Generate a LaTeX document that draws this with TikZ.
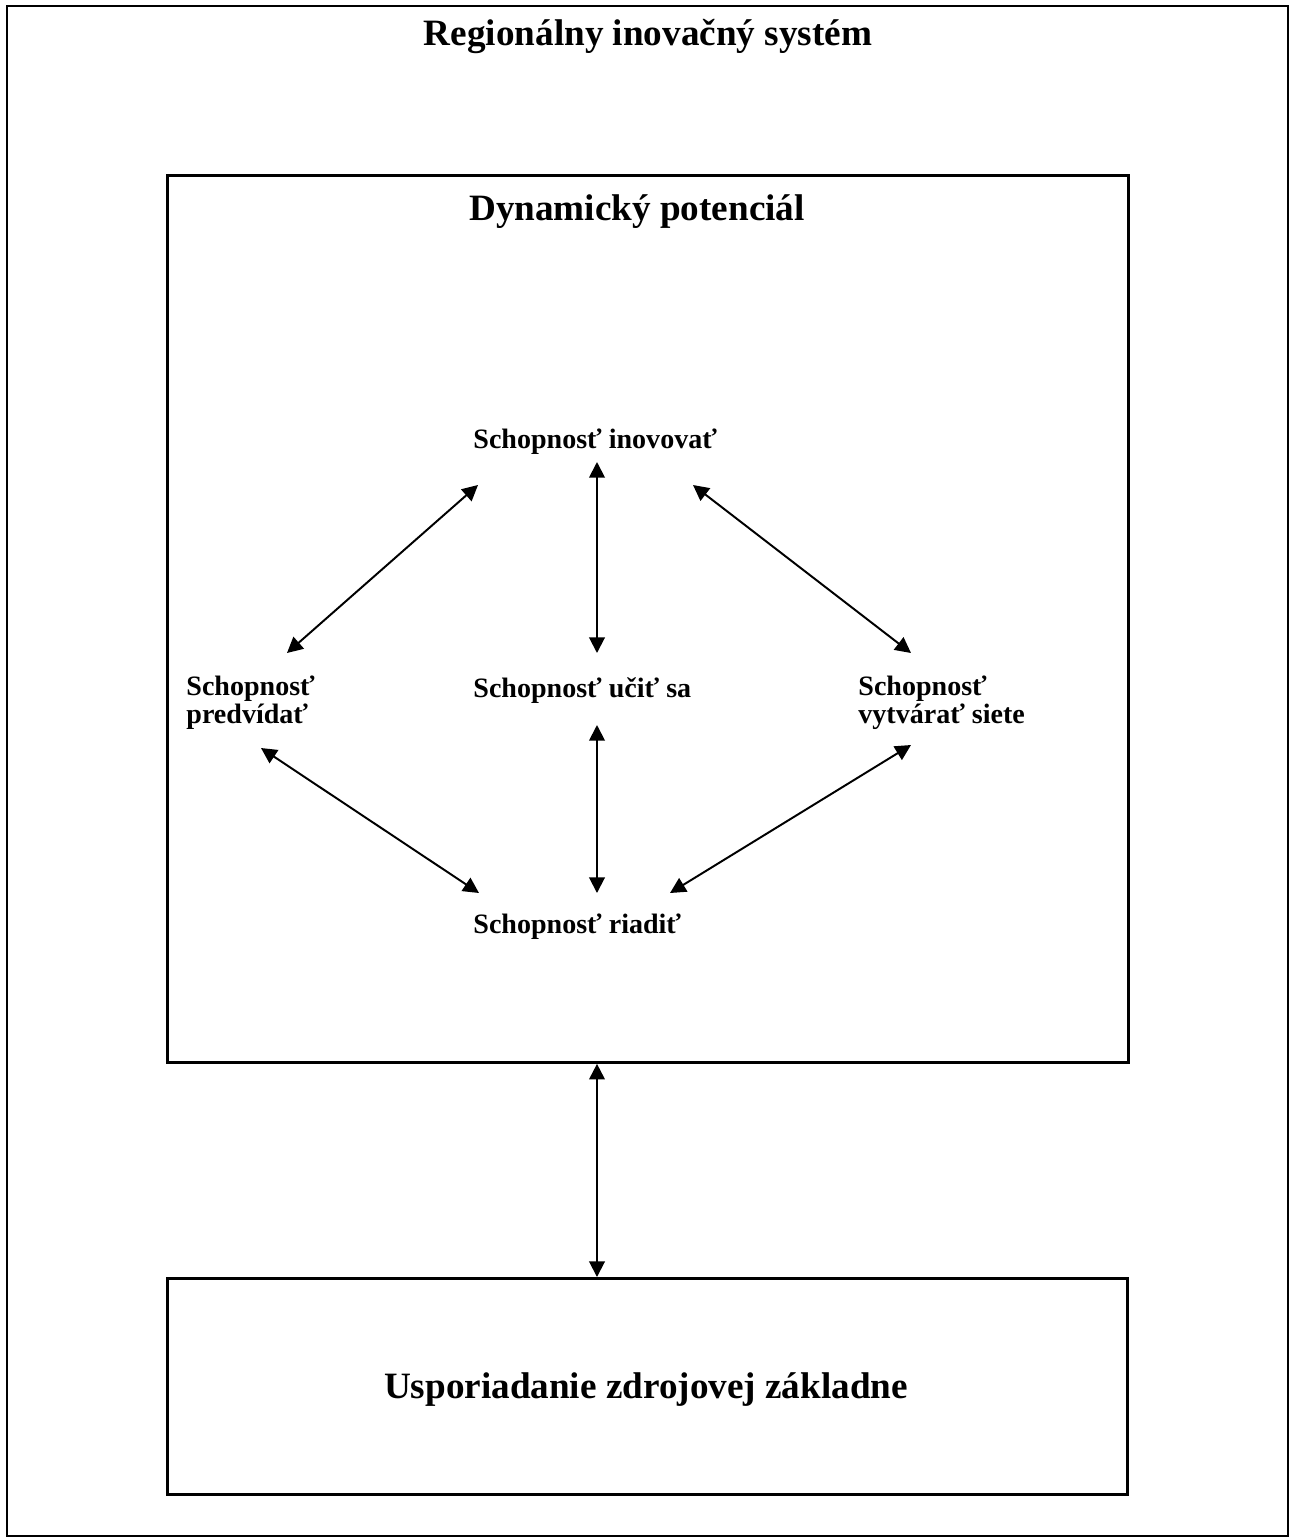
\documentclass[tikz,border=0pt]{standalone}
\usepackage{fontspec}
\setmainfont{Liberation Serif}
\usetikzlibrary{arrows.meta}
\begin{document}
\begin{tikzpicture}[x=0.46pt,y=-0.46pt,
  frame/.style={draw=black,line width=1.3pt},
  big/.style={font=\bfseries\fontsize{17.1}{19}\selectfont,inner sep=0pt,anchor=base},
  lbl/.style={font=\bfseries\fontsize{12.9}{12.6}\selectfont,inner sep=0pt,align=left,anchor=base west},
  link/.style={line width=0.9pt,{Triangle[length=7.2pt,width=7.2pt]}-{Triangle[length=7.2pt,width=7.2pt]}}]
\useasboundingbox (0,0) rectangle (1292,1539);
\draw[frame] (7,6) rectangle (1288,1536);
\node[frame,minimum width=961*0.46pt,minimum height=887*0.46pt,anchor=north west,inner sep=0pt] (dyn) at (166,174) {};
\node[frame,minimum width=960*0.46pt,minimum height=216*0.46pt,anchor=north west,inner sep=0pt] (base) at (166,1277) {};
\node[big] (title) at (648,45) {Regionálny inovačný systém};
\node[big] (dyntitle) at (637,220) {Dynamický potenciál};
\node[big] (basetitle) at (646,1398) {Usporiadanie zdrojovej základne};
\node[lbl] (inov) at (473,448) {Schopnosť inovovať};
\node[lbl] (pred) at (186,723) {Schopnosť\\predvídať};
\node[lbl] (ucit) at (473,697) {Schopnosť učiť sa};
\node[lbl] (siet) at (858,723) {Schopnosť\\vytvárať siete};
\node[lbl] (riad) at (473,933) {Schopnosť riadiť};
\coordinate (a1) at (478,485); \coordinate (b1) at (287,653);
\coordinate (a2) at (597,462); \coordinate (b2) at (597,653);
\coordinate (a3) at (693,485); \coordinate (b3) at (911,653);
\coordinate (a4) at (261,748); \coordinate (b4) at (479,893);
\coordinate (a5) at (597,725); \coordinate (b5) at (597,893);
\coordinate (a6) at (911,745); \coordinate (b6) at (670,893);
\coordinate (a7) at (597,1062); \coordinate (b7) at (597,1276);
\draw[link] (a1) -- (b1);
\draw[link] (a2) -- (b2);
\draw[link] (a3) -- (b3);
\draw[link] (a4) -- (b4);
\draw[link] (a5) -- (b5);
\draw[link] (a6) -- (b6);
\draw[link] (dyn.south -| a7) -- (base.north -| b7);
\end{tikzpicture}
\end{document}
